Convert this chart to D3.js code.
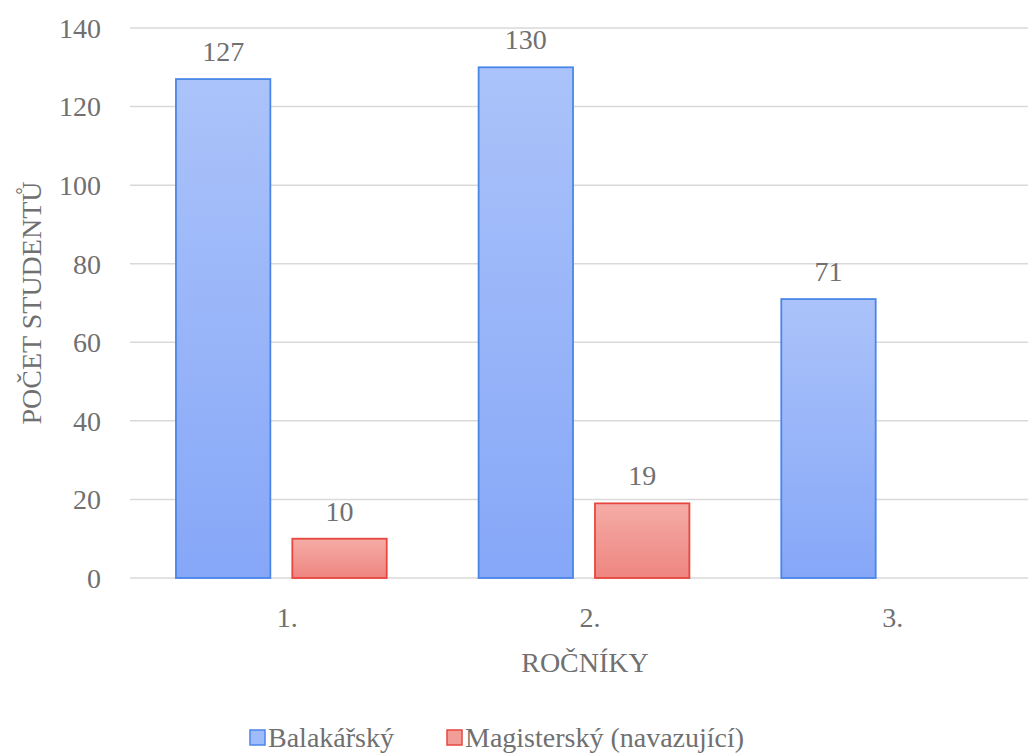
<!DOCTYPE html>
<html>
<head>
<meta charset="UTF-8">
<script src="https://d3js.org/d3.v7.min.js"></script>
</head>
<body style="margin:0">
<script>
const categories = ["1.", "2.", "3."]
const bakalarsky = [127, 130, 71]
const magistersky = [10, 19, null]
const seriesNames = ["Balakářský", "Magisterský (navazující)"]
const yTicks = [0, 20, 40, 60, 80, 100, 120, 140]

const svg = d3.select("body").append("svg")
    .attr("id", "rocniky").attr("width", 1028).attr("height", 753)
const plotLeft = 130, plotRight = 1038, plotTop = 28, plotBottom = 578
const textColor = "#707070"

// labels share one font and colour
function label(sel) {
    return sel.attr("font-size", 28).attr("fill", textColor)
        .style("font-family", "'Liberation Serif', monospace")
}

// gradients like the office theme
const defs = svg.append("defs")
const grads = [
    {id: "gBlue", c0: "#abc3fa", c1: "#86a7f8"},
    {id: "gRed", c0: "#f5aca6", c1: "#ef8580"}
]
grads.forEach(g => {
    const lg = defs.append("linearGradient").attr("id", g.id)
        .attr("x1", 0).attr("y1", 0).attr("x2", 0).attr("y2", 1)
    lg.append("stop").attr("offset", "0%").attr("stop-color", g.c0)
    lg.append("stop").attr("offset", "100%").attr("stop-color", g.c1)
})
const fills = ["url(#gBlue)", "url(#gRed)"]
const strokes = ["#4a86e8", "#e8473f"]
const swatch = ["#a0bbf9", "#f29e98"]

const x = d3.scaleBand().domain(categories).range([plotLeft, plotRight]).paddingInner(0).paddingOuter(0)
const inner = d3.scaleBand().domain([0, 1]).range([0, x.bandwidth()])
    .paddingOuter(46 / 116.5).paddingInner(22 / 116.5)
const y = d3.scaleLinear().domain([0, 140]).range([plotBottom, plotTop])

// gridlines
svg.append("g")
    .selectAll("line").data(yTicks).join("line")
    .attr("x1", plotLeft).attr("x2", plotRight)
    .attr("y1", d => y(d)).attr("y2", d => y(d))
    .attr("stroke", "#d9d9d9").attr("stroke-width", 1.5)

// y tick labels
svg.append("g").selectAll("text").data(yTicks).join("text")
    .attr("x", 101).attr("y", d => y(d)).attr("dy", "0.35em")
    .attr("text-anchor", "end")
    .call(label)
    .text(d => d)

const rows = categories.map((c, i) => ({cat: c, vals: [bakalarsky[i], magistersky[i]]}))
const bars = []
rows.forEach(r => r.vals.forEach((v, s) => {
    if (v != null) bars.push({cat: r.cat, s: s, v: v})
}))

svg.append("g").selectAll("rect").data(bars).join("rect")
    .attr("x", d => x(d.cat) + inner(d.s))
    .attr("width", inner.bandwidth())
    .attr("y", d => y(d.v))
    .attr("height", d => y(0) - y(d.v))
    .attr("fill", d => fills[d.s])
    .attr("stroke", d => strokes[d.s])
    .attr("stroke-width", 1.8)

svg.append("g").selectAll("text").data(bars).join("text")
    .attr("x", d => x(d.cat) + inner(d.s) + inner.bandwidth() / 2)
    .attr("y", d => y(d.v) - 18)
    .attr("text-anchor", "middle")
    .call(label)
    .text(d => d.v)

// category labels
svg.append("g").selectAll("text").data(categories).join("text")
    .attr("x", d => x(d) + x.bandwidth() / 2 + 6)
    .attr("y", 627)
    .attr("text-anchor", "middle")
    .call(label)
    .text(d => d)

// axis titles
svg.append("text")
    .attr("x", 585).attr("y", 672)
    .attr("text-anchor", "middle")
    .call(label)
    .text("ROČNÍKY")
svg.append("text")
    .attr("transform", "translate(41," + ((plotTop + plotBottom) / 2) + ") rotate(-90)")
    .attr("text-anchor", "middle")
    .call(label)
    .text("POČET STUDENTŮ")

// legend
const legendX = [250, 447]
const lg = svg.append("g").selectAll("g").data(seriesNames).join("g")
    .attr("transform", (d, i) => "translate(" + legendX[i] + ",730)")
lg.append("rect").attr("width", 15).attr("height", 15)
    .attr("fill", (d, i) => swatch[i]).attr("stroke", (d, i) => strokes[i]).attr("stroke-width", 1.5)
lg.append("text").attr("x", 18).attr("y", 17)
    .call(label)
    .text(d => d)
</script>
</body>
</html>
